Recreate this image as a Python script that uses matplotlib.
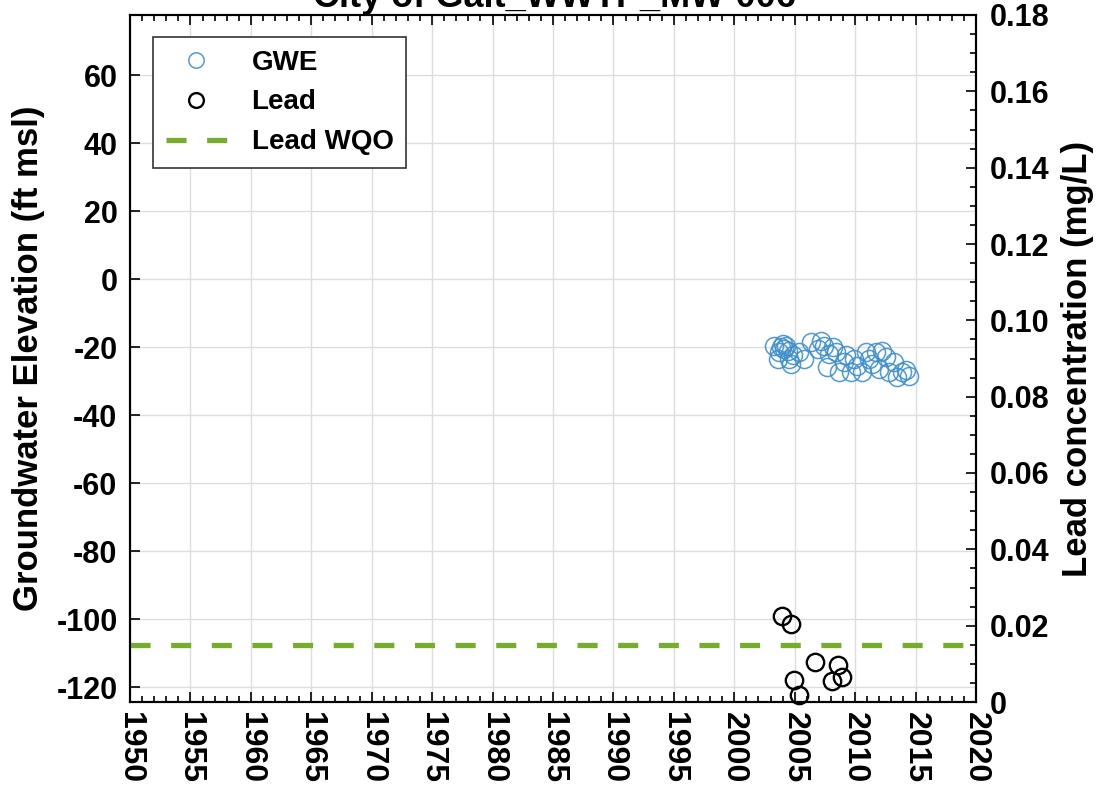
import matplotlib.pyplot as plt
import numpy as np

plt.rcParams['font.family'] = ['Liberation Sans', 'DejaVu Sans']
plt.rcParams['font.weight'] = 'bold'

# groundwater elevation readings (decimal year, ft msl)
gwe_years = [2003.31, 2004.00, 2004.13, 2003.72, 2004.41, 2003.58, 2004.68, 2004.82,
             2005.37, 2005.79, 2006.34, 2007.16, 2006.89, 2007.44, 2007.85, 2008.13,
             2007.71, 2008.40, 2008.68, 2009.23, 2009.09, 2009.64, 2009.92, 2010.19,
             2010.60, 2010.88, 2011.16, 2011.43, 2011.71, 2012.26, 2011.98, 2012.53,
             2012.81, 2013.22, 2013.50, 2013.91, 2014.46, 2014.19, 2003.86, 2004.27,
             2004.55]
gwe_values = [-19.5, -19.0, -20.5, -21.5, -21.0, -23.4, -24.9, -22.4,
              -21.5, -23.4, -18.5, -18.1, -20.5, -19.5, -22.0, -20.0,
              -25.8, -21.5, -27.3, -22.4, -24.4, -27.3, -23.4, -25.4,
              -27.3, -21.5, -23.4, -24.9, -21.5, -21.0, -26.3, -22.9,
              -27.3, -24.4, -28.8, -27.3, -28.3, -26.8, -20.0, -19.5,
              -23.4]

# lead results (decimal year, mg/L)
lead_years = [2003.93, 2004.68, 2006.67, 2004.90, 2005.37, 2008.62, 2008.07, 2008.89]
lead_values = [0.0225, 0.0205, 0.0104, 0.0058, 0.0018, 0.0097, 0.0056, 0.0065]

wqo_years = [1950, 2020]
wqo_values = [0.015, 0.015]

xticks = np.arange(1950, 2021, 5)
left_ticks = np.arange(-120, 61, 20)
right_ticks = np.arange(0, 0.181, 0.02)

fig = plt.figure(figsize=(11.09, 7.90), dpi=100)
ax = fig.add_axes([130 / 1109, 1 - 702 / 790, (976 - 130) / 1109, (702 - 15) / 790])
ax2 = ax.twinx()

gwe_line, = ax.plot(gwe_years, gwe_values, 'o', mfc='none', mec='#3f8fc8',
                    mew=1.1, ms=13, alpha=0.9, label='GWE')
lead_line, = ax2.plot(lead_years, lead_values, 'o', mfc='none', mec='black',
                      mew=1.7, ms=12.5, label='Lead', clip_on=False)
wqo_line, = ax2.plot(wqo_years, wqo_values, color='#77ac30', lw=3.8,
                     dashes=(3.8, 3.9), label='Lead WQO')

ax.set_xlim(1950, 2020)
ax.set_ylim(-124.3, 77.7)
ax2.set_ylim(0, 0.18)

ax.set_xticks(xticks)
ax.set_xticklabels([str(t) for t in xticks], rotation=-90, fontsize=23)
ax.set_xticks(np.arange(1950, 2021, 1), minor=True)
ax.set_yticks(left_ticks)
ax.set_yticklabels([str(t) for t in left_ticks], fontsize=22)
ax2.set_yticks(right_ticks)
ax2.set_yticklabels(['0'] + ['%.2f' % t for t in right_ticks[1:]], fontsize=22)
ax2.set_yticks(np.arange(0, 0.1801, 0.005), minor=True)

ax.grid(True, color='#dddddd', lw=1)
ax.tick_params(axis='x', which='both', direction='in', top=True, length=7, width=1.2, pad=7)
ax.tick_params(axis='x', which='minor', length=4)
ax.tick_params(axis='y', direction='in', length=7, width=1.2, pad=9)
ax2.tick_params(axis='y', which='both', direction='in', length=7, width=1.2, pad=10)
ax2.tick_params(axis='y', which='minor', length=4)
for a in (ax, ax2):
    for s in a.spines.values():
        s.set_linewidth(1.5)

ax.set_ylabel('Groundwater Elevation (ft msl)', fontsize=25, weight='bold', labelpad=8)
ax2.set_ylabel('Lead concentration (mg/L)', fontsize=25, weight='bold', labelpad=8)

fig.text(0.4995, 1 - 7 / 790, 'City of Galt_WWTP_MW-006', ha='center', va='baseline',
         fontsize=26, weight='bold')

leg = ax2.legend(handles=[gwe_line, lead_line, wqo_line], loc='upper left',
                 bbox_to_anchor=(23 / 846, 1 - 22 / 687), borderaxespad=0,
                 fontsize=20, fancybox=False, framealpha=1, edgecolor='#333333',
                 markerscale=0.85, handlelength=2.2, borderpad=0.45, labelspacing=0.5,
                 handletextpad=0.9)
leg.get_frame().set_linewidth(1.2)

fig.savefig('out.png', dpi=100)
